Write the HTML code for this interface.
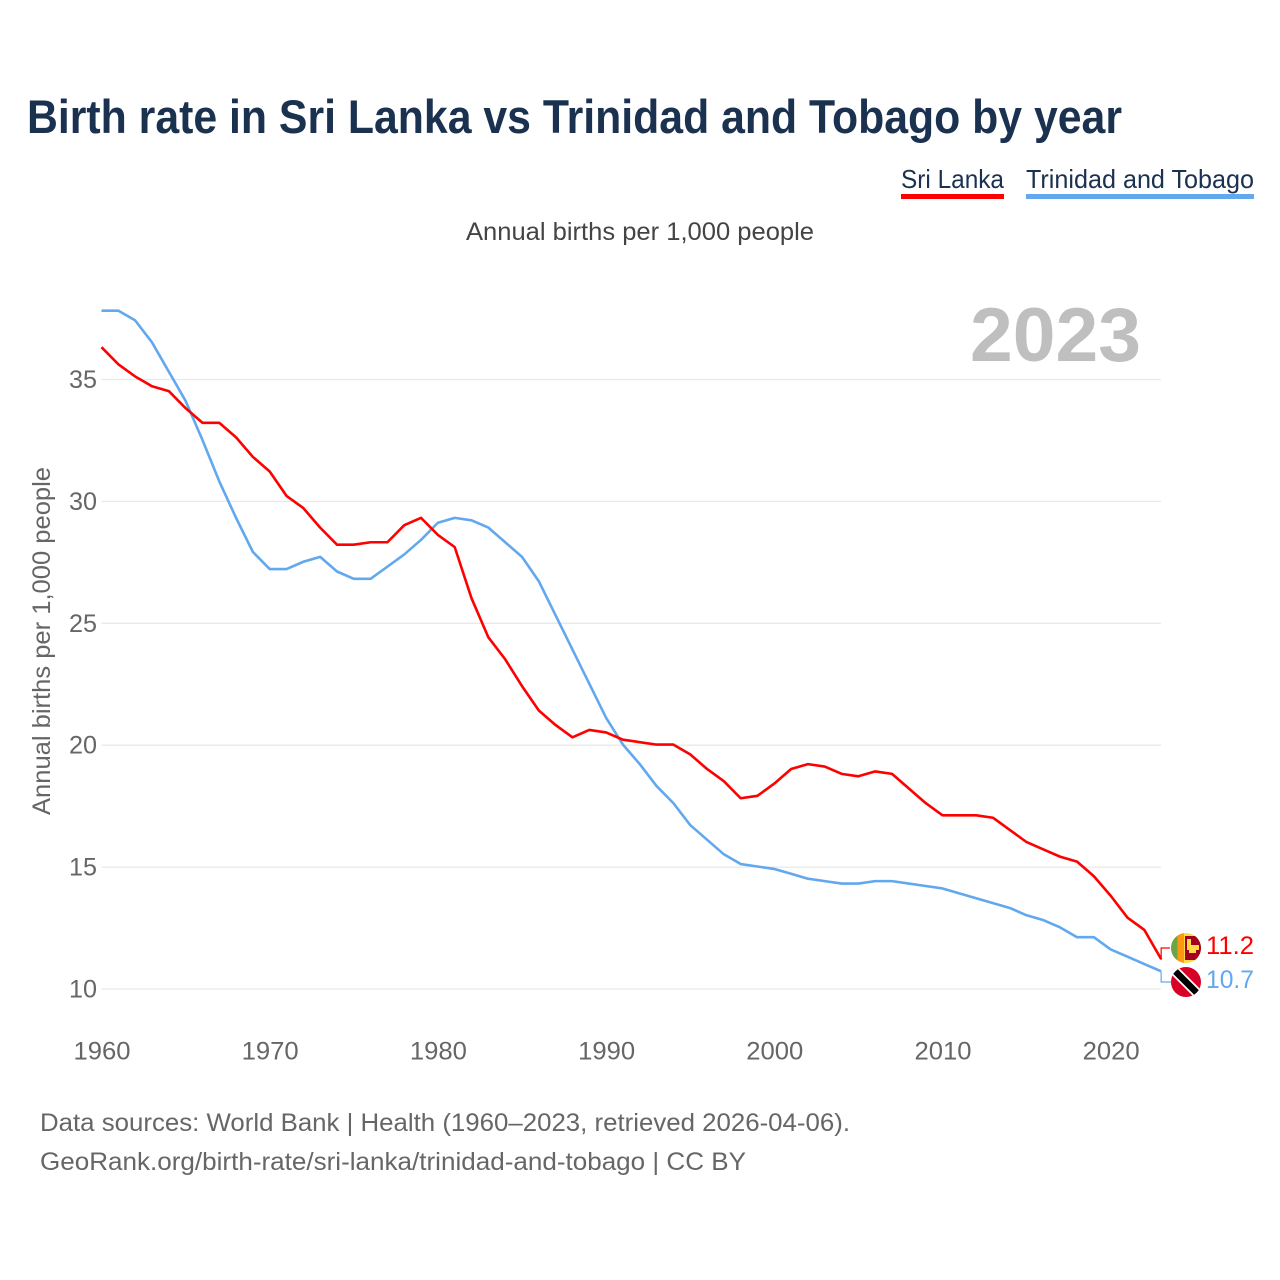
<!DOCTYPE html>
<html lang="en">
<head>
<meta charset="utf-8">
<title>Birth rate in Sri Lanka vs Trinidad and Tobago by year</title>
<style>
html,body{margin:0;padding:0;background:#fff;width:1280px;height:1280px;overflow:hidden}
svg{display:block}
text{font-family:"Liberation Sans",sans-serif}
</style>
</head>
<body>
<svg id="chart" xmlns="http://www.w3.org/2000/svg" width="1280" height="1280" viewBox="0 0 1280 1280">
  <rect width="1280" height="1280" fill="#fff"/>
  <text x="27" y="133" font-size="47" font-weight="700" fill="#1a3150" textLength="1095" lengthAdjust="spacingAndGlyphs">Birth rate in Sri Lanka vs Trinidad and Tobago by year</text>

  <g>
    <g>
      <text x="901" y="188" font-size="26" fill="#1a3150" textLength="103" lengthAdjust="spacingAndGlyphs">Sri Lanka</text>
      <rect x="901" y="194" width="103" height="5" fill="#ff0000"/>
    </g>
    <g>
      <text x="1026" y="188" font-size="26" fill="#1a3150" textLength="228" lengthAdjust="spacingAndGlyphs">Trinidad and Tobago</text>
      <rect x="1026" y="194" width="228" height="5" fill="#62a8ee"/>
    </g>
  </g>

  <text x="466" y="240" font-size="25" fill="#444" textLength="348" lengthAdjust="spacingAndGlyphs">Annual births per 1,000 people</text>
  <text x="970" y="361" font-size="76" font-weight="700" fill="#bfbfbf" textLength="171" lengthAdjust="spacingAndGlyphs">2023</text>
  <text transform="translate(50,815) rotate(-90)" x="0" y="0" font-size="25" fill="#666" textLength="348" lengthAdjust="spacingAndGlyphs">Annual births per 1,000 people</text>

  <g id="grid"></g>
  <g id="yticks"></g>
  <g id="xticks"></g>
  <g id="series"></g>

  <g>
    <clipPath id="clipLk"><circle cx="1186" cy="948" r="15"/></clipPath>
    <g clip-path="url(#clipLk)">
      <rect x="1171" y="933" width="30" height="30" fill="#ffda44"/>
      <rect x="1171" y="933" width="6.5" height="30" fill="#6da544"/>
      <rect x="1177.5" y="933" width="6.5" height="30" fill="#ff9811"/>
      <rect x="1185" y="936" width="16" height="24" fill="#a2001d"/>
      <path d="M1187 939h4v6h8v5h-3v3h-7v-3h-2z" fill="#ffda44"/>
    </g>
  </g>
  <g>
    <clipPath id="clipTt"><circle cx="1186" cy="982" r="15"/></clipPath>
    <g clip-path="url(#clipTt)">
      <rect x="1171" y="967" width="30" height="30" fill="#d80027"/>
      <line x1="1171" y1="967" x2="1201" y2="997" stroke="#fff" stroke-width="10"/>
      <line x1="1171" y1="967" x2="1201" y2="997" stroke="#000" stroke-width="6.5"/>
    </g>
  </g>
  <text x="1206" y="954" font-size="25" fill="#ff0000" textLength="48" lengthAdjust="spacingAndGlyphs">11.2</text>
  <text x="1206" y="988" font-size="25" fill="#62a8ee" textLength="48" lengthAdjust="spacingAndGlyphs">10.7</text>

  <text x="40" y="1131" font-size="25" fill="#666" textLength="810" lengthAdjust="spacingAndGlyphs">Data sources: World Bank | Health (1960–2023, retrieved 2026-04-06).</text>
  <text x="40" y="1170" font-size="25" fill="#666" textLength="706" lengthAdjust="spacingAndGlyphs">GeoRank.org/birth-rate/sri-lanka/trinidad-and-tobago | CC BY</text>
</svg>
<script>
const startYear = 1960;
const sriLanka = [36.3,35.6,35.1,34.7,34.5,33.8,33.2,33.2,32.6,31.8,
  31.2,30.2,29.7,28.9,28.2,28.2,28.3,28.3,29.0,29.3,
  28.6,28.1,26.0,24.4,23.5,22.4,21.4,20.8,20.3,20.6,
  20.5,20.2,20.1,20.0,20.0,19.6,19.0,18.5,17.8,17.9,
  18.4,19.0,19.2,19.1,18.8,18.7,18.9,18.8,18.2,17.6,
  17.1,17.1,17.1,17.0,16.5,16.0,15.7,15.4,15.2,14.6,
  13.8,12.9,12.4,11.2];
const trinidad = [37.8,37.8,37.4,36.5,35.3,34.1,32.5,30.8,29.3,27.9,
  27.2,27.2,27.5,27.7,27.1,26.8,26.8,27.3,27.8,28.4,
  29.1,29.3,29.2,28.9,28.3,27.7,26.7,25.3,23.9,22.5,
  21.1,20.0,19.2,18.3,17.6,16.7,16.1,15.5,15.1,15.0,
  14.9,14.7,14.5,14.4,14.3,14.3,14.4,14.4,14.3,14.2,
  14.1,13.9,13.7,13.5,13.3,13.0,12.8,12.5,12.1,12.1,
  11.6,11.3,11.0,10.7];
const yTickValues = [10,15,20,25,30,35];
const xTickYears = [1960,1970,1980,1990,2000,2010,2020];

const NS = 'http://www.w3.org/2000/svg';
const xScale = function (year) { return 101.5 + (year - 1960) * 16.82; };
const yScale = function (value) { return 989 - (value - 10) * 24.38; };
const lineOffsetY = -0.6;

const grid = document.getElementById('grid');
const yticks = document.getElementById('yticks');
const xticks = document.getElementById('xticks');
const series = document.getElementById('series');

yTickValues.forEach(function (v) {
  const line = document.createElementNS(NS, 'line');
  
  
  line.setAttribute('x1', 101.5);
  line.setAttribute('x2', 1161);
  line.setAttribute('y1', yScale(v));
  line.setAttribute('y2', yScale(v));
  line.setAttribute('stroke', '#e9e9e9');
  line.setAttribute('stroke-width', '1.3');
  grid.appendChild(line);

  const label = document.createElementNS(NS, 'text');
  
  
  label.setAttribute('x', 69);
  label.setAttribute('y', yScale(v) + 8.5);
  label.setAttribute('font-size', '25');
  label.setAttribute('fill', '#666');
  label.setAttribute('textLength', '28');
  label.setAttribute('lengthAdjust', 'spacingAndGlyphs');
  label.textContent = String(v);
  yticks.appendChild(label);
});

xTickYears.forEach(function (y) {
  const label = document.createElementNS(NS, 'text');
  
  
  label.setAttribute('x', xScale(y) - 28);
  label.setAttribute('y', 1059.5);
  label.setAttribute('font-size', '25');
  label.setAttribute('fill', '#666');
  label.setAttribute('textLength', '57');
  label.setAttribute('lengthAdjust', 'spacingAndGlyphs');
  label.textContent = String(y);
  xticks.appendChild(label);
});

function pathFor(values) {
  return values.map(function (v, i) {
    return (i ? 'L' : 'M') + xScale(startYear + i).toFixed(2) + ' ' + (yScale(v) + lineOffsetY).toFixed(2);
  }).join(' ');
}

const lineTrinidad = document.createElementNS(NS, 'path');


lineTrinidad.setAttribute('d', pathFor(trinidad));
lineTrinidad.setAttribute('fill', 'none');
lineTrinidad.setAttribute('stroke', '#62a8ee');
lineTrinidad.setAttribute('stroke-width', '2.6');
lineTrinidad.setAttribute('stroke-linejoin', 'round');
series.appendChild(lineTrinidad);

const lineSriLanka = document.createElementNS(NS, 'path');


lineSriLanka.setAttribute('d', pathFor(sriLanka));
lineSriLanka.setAttribute('fill', 'none');
lineSriLanka.setAttribute('stroke', '#ff0000');
lineSriLanka.setAttribute('stroke-width', '2.6');
lineSriLanka.setAttribute('stroke-linejoin', 'round');
series.appendChild(lineSriLanka);

const lastX = xScale(startYear + sriLanka.length - 1);

const connectorSriLanka = document.createElementNS(NS, 'path');


connectorSriLanka.setAttribute('d', 'M' + lastX + ' ' + yScale(sriLanka[sriLanka.length - 1]) + ' V948 H1170');
connectorSriLanka.setAttribute('fill', 'none');
connectorSriLanka.setAttribute('stroke', '#ff0000');
connectorSriLanka.setAttribute('stroke-width', '1.2');
series.appendChild(connectorSriLanka);

const connectorTrinidad = document.createElementNS(NS, 'path');


connectorTrinidad.setAttribute('d', 'M' + lastX + ' ' + yScale(trinidad[trinidad.length - 1]) + ' V982 H1171');
connectorTrinidad.setAttribute('fill', 'none');
connectorTrinidad.setAttribute('stroke', '#62a8ee');
connectorTrinidad.setAttribute('stroke-width', '1.2');
series.appendChild(connectorTrinidad);
</script>
</body>
</html>
